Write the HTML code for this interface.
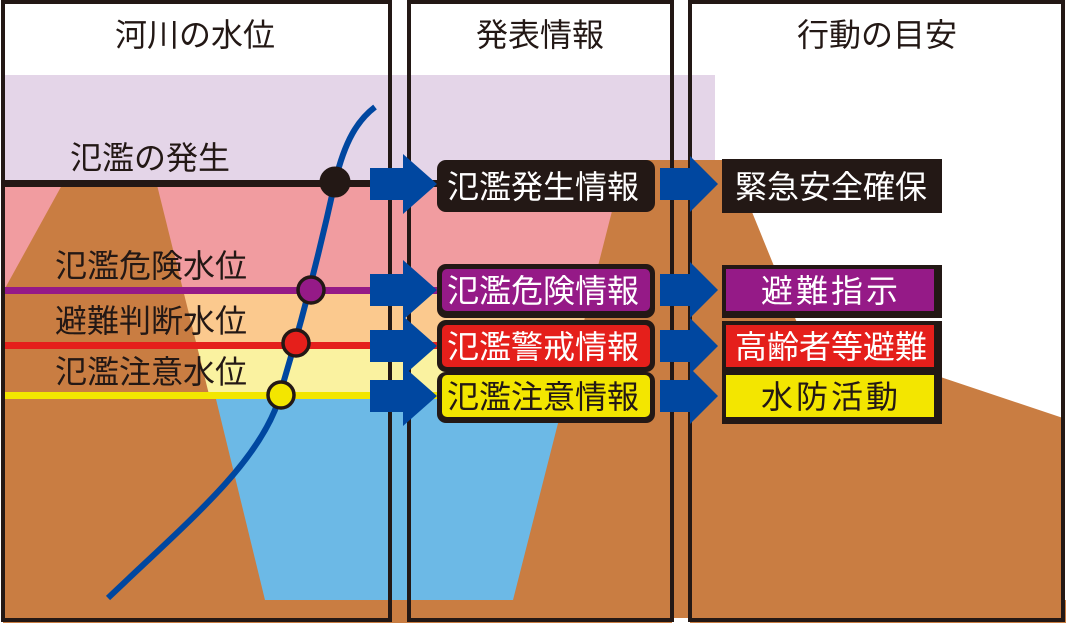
<!DOCTYPE html>
<html><head><meta charset="utf-8"><style>
html,body{margin:0;padding:0;background:#fff;}
svg{display:block;}
text{font-family:"Liberation Sans","Noto Sans CJK JP",sans-serif;}
</style></head><body>
<svg width="1066" height="623" viewBox="0 0 1066 623" xmlns="http://www.w3.org/2000/svg">
<rect width="1066" height="623" fill="#fff"/>
<rect x="3" y="75" width="712" height="110" fill="#e4d5e8"/>
<rect x="3" y="185" width="712" height="105" fill="#f19ca0"/>
<rect x="3" y="290" width="712" height="55" fill="#fbc98e"/>
<rect x="3" y="345" width="712" height="50" fill="#faf2a0"/>
<rect x="3" y="395" width="712" height="210" fill="#6cb9e6"/>
<polygon points="62,185 157,185 260,600 3,600 3,292" fill="#c97d42"/>
<polygon points="3,395 215,395 265,600 3,600" fill="#c97d42"/>
<polygon points="625,160 748,160 752,212 800,330 1063,418 1063,623 513,623 513,600" fill="#c97d42"/>
<rect x="3" y="600" width="1063" height="23" fill="#c97d42"/>
<rect x="672" y="618" width="18" height="5" fill="#fff"/>
<rect x="3" y="180" width="434" height="7" fill="#231815"/>
<rect x="3" y="287" width="434" height="7" fill="#951a87"/>
<rect x="3" y="342" width="434" height="7" fill="#e51f1b"/>
<rect x="3" y="392" width="434" height="7" fill="#f3e600"/>
<path d="M108,598 C190,520 250,470 275,410 C300,330 320,250 335,182 C345,140 358,120 375,107" fill="none" stroke="#0047a0" stroke-width="6"/>
<circle cx="335" cy="182" r="14" fill="#231815" stroke="#231815" stroke-width="3"/>
<circle cx="311" cy="290" r="13" fill="#951a87" stroke="#231815" stroke-width="3.5"/>
<circle cx="296" cy="343" r="13" fill="#e51f1b" stroke="#231815" stroke-width="3.5"/>
<circle cx="281" cy="395" r="13" fill="#f3e600" stroke="#231815" stroke-width="3.5"/>
<g fill="none" stroke="#231815" stroke-width="4">
<rect x="3" y="2" width="387" height="618"/>
<rect x="409" y="2" width="263" height="618"/>
<rect x="690" y="2" width="373" height="618"/>
</g>
<g font-size="32" fill="#231815" text-anchor="middle">
<text x="195" y="46">河川の水位</text>
<text x="540" y="46">発表情報</text>
<text x="877" y="46">行動の目安</text>
</g>
<g font-size="32" fill="#231815">
<text x="70" y="169">氾濫の発生</text>
<text x="55" y="277">氾濫危険水位</text>
<text x="55" y="332">避難判断水位</text>
<text x="55" y="383">氾濫注意水位</text>
</g>
<g fill="#0047a0">
<polygon points="370,168 403,168 403,154 437,184 403,214 403,200 370,200"/>
<polygon points="370,274 403,274 403,260 437,290 403,320 403,306 370,306"/>
<polygon points="370,330 403,330 403,316 437,346 403,376 403,362 370,362"/>
<polygon points="370,380 403,380 403,366 437,396 403,426 403,412 370,412"/>
<polygon points="660,168 690,168 690,156 718,184 690,212 690,200 660,200"/>
<polygon points="660,274 690,274 690,262 718,290 690,318 690,306 660,306"/>
<polygon points="660,330 690,330 690,318 718,346 690,374 690,362 660,362"/>
<polygon points="660,380 690,380 690,368 718,396 690,424 690,412 660,412"/>
</g>
<rect x="437" y="160" width="218" height="52" rx="9" fill="#231815"/>
<rect x="437" y="264" width="218" height="54" rx="9" fill="#231815"/>
<rect x="442" y="269" width="208" height="42" rx="5" fill="#951a87"/>
<rect x="437" y="320" width="218" height="52" rx="9" fill="#231815"/>
<rect x="442" y="325" width="208" height="42" rx="5" fill="#e51f1b"/>
<rect x="437" y="372" width="218" height="51" rx="9" fill="#231815"/>
<rect x="442" y="375" width="208" height="42" rx="5" fill="#f3e600"/>
<g font-size="32" text-anchor="middle">
<text x="543" y="198" fill="#fff">氾濫発生情報</text>
<text x="543" y="302" fill="#fff">氾濫危険情報</text>
<text x="543" y="358" fill="#fff">氾濫警戒情報</text>
<text x="543" y="408" fill="#231815">氾濫注意情報</text>
</g>
<rect x="722" y="159" width="220" height="54" fill="#231815"/>
<rect x="722" y="265" width="220" height="53" fill="#231815"/>
<rect x="726" y="269" width="208" height="42" fill="#951a87"/>
<rect x="722" y="321" width="220" height="51" fill="#231815"/>
<rect x="726" y="325" width="208" height="42" fill="#e51f1b"/>
<rect x="722" y="372" width="220" height="52" fill="#231815"/>
<rect x="726" y="375" width="208" height="42" fill="#f3e600"/>
<g font-size="32" text-anchor="middle">
<text x="831" y="198" fill="#fff">緊急安全確保</text>
<text x="831" y="302" fill="#fff" letter-spacing="3">避難指示</text>
<text x="831" y="358" fill="#fff">高齢者等避難</text>
<text x="831" y="408" fill="#231815" letter-spacing="3">水防活動</text>
</g>
</svg>
</body></html>
